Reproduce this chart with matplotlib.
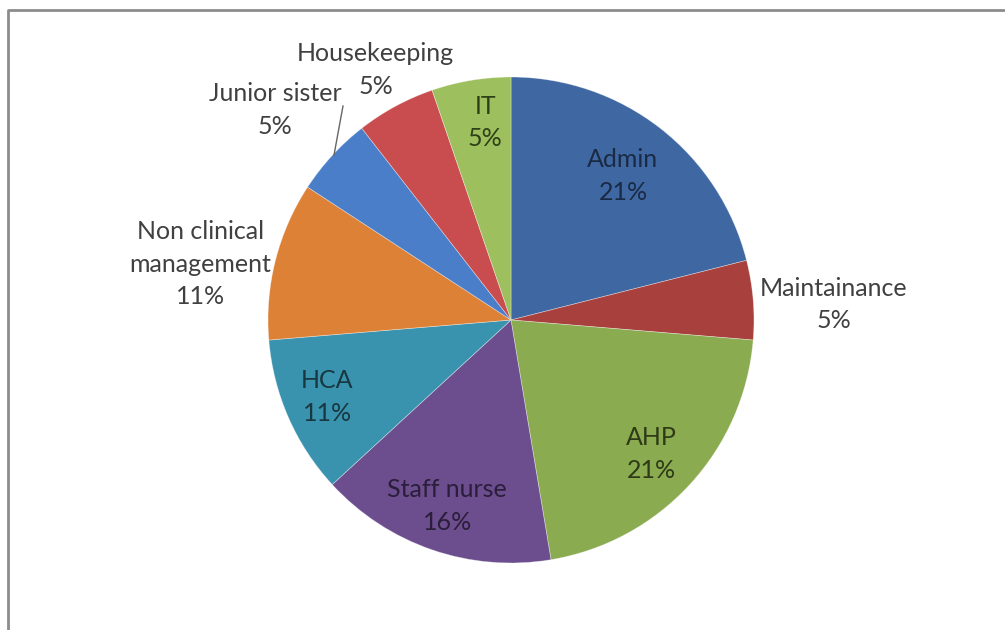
import numpy as np
import matplotlib
matplotlib.use("Agg")
import matplotlib.pyplot as plt

# Staff groups (counts out of 19 respondents)
categories = ["Admin", "Maintainance", "AHP", "Staff nurse", "HCA",
              "Non clinical\nmanagement", "Junior sister", "Housekeeping", "IT"]
counts = [4, 1, 4, 3, 2, 2, 1, 1, 1]

colors = ["#3F68A2", "#A8403D", "#8AAB4F", "#6C4E8E", "#3A93AE",
          "#DC8136", "#4A7EC8", "#C94D4E", "#9DBF5E"]
text_colors = ["#1A2A45", "#404040", "#2E3A17", "#2A1E3A", "#173840",
               "#404040", "#404040", "#404040", "#2E4018"]
# label distance (fraction of radius) and small angle nudge (deg)
label_dist = [0.75, 1.33, 0.80, 0.81, 0.82, 1.30, 1.30, 1.17, 0.82]
label_nudge = [0, -2, -1, 0, -1, 4, 1, 0, -2]

W, H = 1005, 630
fig = plt.figure(figsize=(W / 100, H / 100), dpi=100)
ax = fig.add_axes([0, 0, 1, 1])

# chart frame (only top and left edges visible)
ax.plot([8, 8, W], [0, H - 10, H - 10], color="#8c8c8c", lw=2, solid_capstyle="butt")

cx, cy, R = 511, H - 320, 243
wedges, _ = ax.pie(counts, colors=colors, startangle=90, counterclock=False,
                   center=(cx, cy), radius=R, frame=True,
                   wedgeprops=dict(edgecolor=(1, 1, 1, 0.45), linewidth=0.5))
ax.set_xlim(0, W)
ax.set_ylim(0, H)
ax.set_aspect("equal")
ax.axis("off")

total = sum(counts)
for w, name, n, d, nudge, tc in zip(wedges, categories, counts, label_dist,
                                    label_nudge, text_colors):
    mid = np.deg2rad((w.theta1 + w.theta2) / 2 + nudge)
    x = cx + d * R * np.cos(mid)
    y = cy + d * R * np.sin(mid)
    pct = "{:.0f}%".format(100 * n / total)
    ax.text(x, y, name + "\n" + pct, ha="center", va="center", color=tc,
            fontsize=18, family="Lato", linespacing=1.5)

# leader line for the Junior sister label
ax.plot([343, 334], [H - 106, H - 155], color="#666666", lw=1)

fig.savefig("out.png", dpi=100, facecolor="white")
